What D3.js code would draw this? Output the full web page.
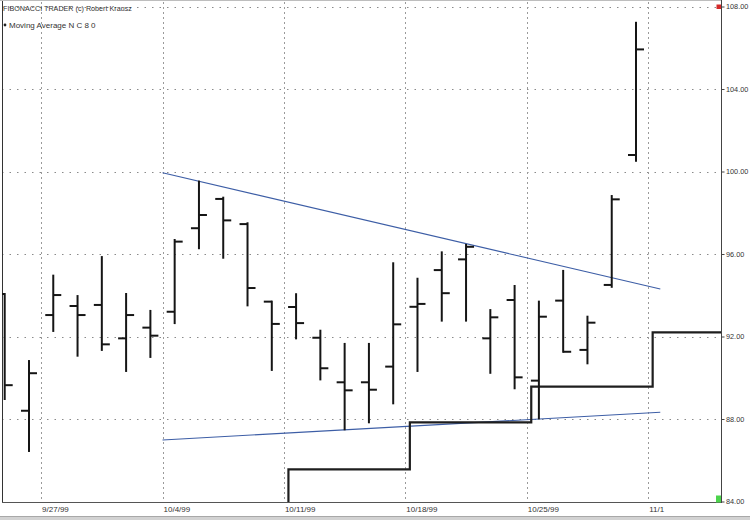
<!DOCTYPE html>
<html>
<head>
<meta charset="utf-8">
<script src="https://cdn.jsdelivr.net/npm/d3@7"></script>
<style>
  html, body { margin: 0; padding: 0; background: #fff; }
  svg { display: block; }
  text { font-family: "Liberation Sans", Arial, sans-serif; }
</style>
</head>
<body>
<svg id="chart" width="750" height="520"></svg>
<script>
// ---------- data ----------
const tradingDays = ["9/23/99","9/24/99","9/27/99","9/28/99","9/29/99","9/30/99","10/1/99",
  "10/4/99","10/5/99","10/6/99","10/7/99","10/8/99","10/11/99","10/12/99","10/13/99","10/14/99","10/15/99",
  "10/18/99","10/19/99","10/20/99","10/21/99","10/22/99","10/25/99","10/26/99","10/27/99","10/28/99","10/29/99",
  "11/1/99","11/2/99","11/3/99"];
const barDates = tradingDays.slice(0, 27);
const opens  = [94.06,88.40,93.04,93.48,93.53,91.91,92.43,93.20,97.25,98.67,97.45,93.69,93.43,91.94,89.78,89.78,90.54,93.44,95.22,95.74,91.91,93.77,89.86,93.74,91.35,94.50,100.80];
const highs  = [94.06,90.81,94.95,93.96,95.85,94.06,93.24,96.68,99.51,98.73,97.49,93.69,94.05,92.28,91.64,91.64,95.55,94.80,96.08,96.44,93.28,94.45,93.69,95.18,92.96,98.81,107.21];
const lows   = [88.97,86.45,92.27,91.07,91.35,90.33,91.01,92.65,96.28,95.82,93.51,90.38,91.91,89.92,87.50,87.84,88.76,90.33,92.77,92.77,90.24,89.49,88.03,91.26,90.70,94.41,100.52];
const closes = [89.64,90.22,94.01,93.04,91.62,93.04,92.04,96.60,97.89,97.63,94.35,92.61,92.65,90.46,89.39,89.42,92.59,93.58,94.10,96.35,92.93,90.02,92.96,91.26,92.67,98.65,105.92];

const priceTicks = [108, 104, 100, 96, 92, 88, 84];
const weekStarts = ["9/27/99","10/4/99","10/11/99","10/18/99","10/25/99","11/1/99"];
const weekLabels = ["9/27/99","10/4/99","10/11/99","10/18/99","10/25/99","11/1"];

// Moving Average N C 8 0 (weekly step)
const maDates  = ["10/4/99","10/11/99","10/18/99","10/25/99","11/1/99"];
const maValues = [83.2, 85.56, 87.84, 89.57, 92.20];

// trend lines
const trendDates = ["10/4/99","11/1/99"];
const upperTrend = [99.94, 94.30];
const lowerTrend = [86.98, 88.33];

const titleText  = "FIBONACCI TRADER (c) Robert Krausz";
const legendText = "Moving Average N C 8 0";

// ---------- layout ----------
const W = 750, H = 520;
const plot = { left: 2, right: 721, top: 2, bottom: 502 };
const svg = d3.select("#chart");

const x = d3.scaleBand().domain(tradingDays).range([-7.44, plot.right]).padding(0);
const bw = x.bandwidth();
const xc = d => x(d) + bw / 2;
const y = d3.scaleLinear().domain([84, 108]).range([501.5, 6.5]);

svg.append("rect").attr("width", W).attr("height", H).attr("fill", "#fff");

svg.append("defs").append("clipPath").attr("id", "plotclip")
  .append("rect").attr("x", plot.left).attr("y", plot.top)
  .attr("width", plot.right - plot.left).attr("height", plot.bottom - plot.top);

// horizontal dotted gridlines
svg.append("g").selectAll("line").data(priceTicks.filter(v => v > 84)).join("line")
  .attr("x1", plot.left).attr("x2", plot.right)
  .attr("y1", d => Math.round(y(d)) + 0.5).attr("y2", d => Math.round(y(d)) + 0.5)
  .attr("stroke", "#8a8a8a").attr("stroke-width", 1).attr("stroke-dasharray", "1.5,6");

// vertical dashed gridlines
svg.append("g").selectAll("line").data(weekStarts).join("line")
  .attr("x1", d => Math.round(x(d)) + 0.5).attr("x2", d => Math.round(x(d)) + 0.5)
  .attr("y1", plot.top).attr("y2", plot.bottom)
  .attr("stroke", "#9a9a9a").attr("stroke-width", 1).attr("stroke-dasharray", "2,3");

// frame
svg.append("line").attr("x1", 0).attr("x2", plot.right).attr("y1", 0.5).attr("y2", 0.5)
  .attr("stroke", "#bdbdbd");
svg.append("line").attr("x1", plot.left + 0.5).attr("x2", plot.left + 0.5)
  .attr("y1", 1).attr("y2", plot.bottom).attr("stroke", "#333").attr("stroke-width", 1);

const g = svg.append("g").attr("clip-path", "url(#plotclip)");

// trend lines
[upperTrend, lowerTrend].forEach(vals => {
  g.append("line")
    .attr("x1", x(trendDates[0])).attr("y1", y(vals[0]))
    .attr("x2", xc(trendDates[1])).attr("y2", y(vals[1]))
    .attr("stroke", "#3d5ea6").attr("stroke-width", 1.1);
});

// moving average step line
const stepOff = 4.5;
const maPts = maDates.map((d, i) => [x(d) + stepOff, y(maValues[i])]);
maPts.push([plot.right, y(maValues[maValues.length - 1])]);
g.append("path")
  .attr("d", d3.line().curve(d3.curveStepAfter)(maPts))
  .attr("fill", "none").attr("stroke", "#1e1e1e").attr("stroke-width", 2.2);

// OHLC bars
const bars = g.append("g").selectAll("g").data(barDates).join("g");
const tick = 8;
bars.append("line")
  .attr("x1", d => xc(d)).attr("x2", d => xc(d))
  .attr("y1", (d, i) => y(highs[i]) - 1).attr("y2", (d, i) => y(lows[i]) + 1)
  .attr("stroke", "#151515").attr("stroke-width", 2);
bars.append("line")
  .attr("x1", d => xc(d) - tick).attr("x2", d => xc(d))
  .attr("y1", (d, i) => y(opens[i])).attr("y2", (d, i) => y(opens[i]))
  .attr("stroke", "#151515").attr("stroke-width", 2);
bars.append("line")
  .attr("x1", d => xc(d)).attr("x2", d => xc(d) + tick)
  .attr("y1", (d, i) => y(closes[i])).attr("y2", (d, i) => y(closes[i]))
  .attr("stroke", "#151515").attr("stroke-width", 2);

// bottom axis line
svg.append("line").attr("x1", plot.left).attr("x2", plot.right)
  .attr("y1", plot.bottom + 0.5).attr("y2", plot.bottom + 0.5)
  .attr("stroke", "#555").attr("stroke-width", 1);

// right axis
const yAxis = d3.axisRight(y).tickValues(priceTicks).tickSize(3)
  .tickFormat(d3.format(".2f"));
const ya = svg.append("g").attr("transform", `translate(${plot.right + 0.5},0)`).call(yAxis);
ya.select(".domain").attr("stroke", "#444").attr("d", `M0,0V${plot.bottom + 1}`);
ya.selectAll(".tick line").attr("stroke", "#444");
ya.selectAll("text").attr("x", 4.5).attr("fill", "#333").style("font-size", "7.3px")
  .style("font-family", "'Liberation Sans', Arial, sans-serif");

// scroll markers at axis ends
svg.append("rect").attr("x", plot.right - 4.5).attr("y", y(108) - 2)
  .attr("width", 4.5).attr("height", 4.5).attr("fill", "#d42a2a");
svg.append("rect").attr("x", plot.right - 5).attr("y", y(84) - 6)
  .attr("width", 5).attr("height", 7).attr("fill", "#4cd44c");

// bottom date labels
svg.append("g").selectAll("text").data(weekStarts).join("text")
  .attr("x", d => x(d) + 1).attr("y", 512)
  .attr("fill", "#333").style("font-size", "8px")
  .text((d, i) => weekLabels[i]);

// gray band at bottom
svg.append("rect").attr("x", 0).attr("y", 516).attr("width", W).attr("height", 4).attr("fill", "#d2d2d2");
svg.append("line").attr("x1", 0).attr("x2", W).attr("y1", 516.5).attr("y2", 516.5).attr("stroke", "#a8a8a8");

// legend texts
svg.append("text").attr("x", 3).attr("y", 11).attr("fill", "#333")
  .style("font-size", "7.2px").text(titleText);
svg.append("circle").attr("cx", 5).attr("cy", 25).attr("r", 1.4).attr("fill", "#222");
svg.append("text").attr("x", 9).attr("y", 28).attr("fill", "#333")
  .style("font-size", "8px").text(legendText);
</script>
</body>
</html>
